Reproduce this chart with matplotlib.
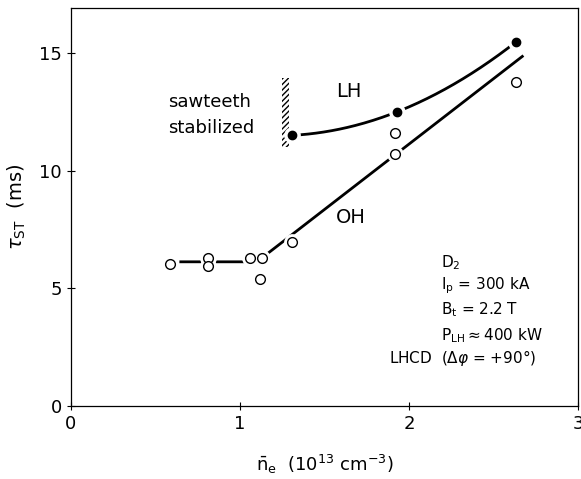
import numpy as np
import matplotlib
matplotlib.use("Agg")
import matplotlib.pyplot as plt
from matplotlib.patches import Rectangle

# OH data (open circles)
oh_x = [0.585, 0.81, 0.81, 1.06, 1.13, 1.12, 1.31, 1.92, 1.92, 2.63]
oh_y = [6.05, 6.3, 5.95, 6.3, 6.3, 5.4, 6.95, 11.6, 10.7, 13.75]
# OH guide line (knots)
oh_line_x = [0.65, 1.1, 2.67]
oh_line_y = [6.13, 6.13, 14.85]
# LH data (filled circles)
lh_x = [1.31, 1.93, 2.63]
lh_y = [11.5, 12.5, 15.45]

xticks = [0, 1, 2, 3]
yticks = [0, 5, 10, 15]

plt.rcParams['mathtext.fontset'] = 'dejavusans'
fig = plt.figure(figsize=(5.81, 4.79), dpi=100)
ax = fig.add_axes([0.122, 0.152, 0.873, 0.831])
ax.set_xlim(0, 3)
ax.set_ylim(0, 16.9)
ax.set_xticks(xticks)
ax.set_yticks(yticks)
ax.tick_params(direction='inout', length=6, width=0.8, labelsize=13)
for s in ax.spines.values():
    s.set_linewidth(0.9)

# OH line: flat part then rising
ax.plot(oh_line_x, oh_line_y, color='black', lw=2.0, zorder=2)
# LH curve: smooth through points
c = np.polyfit(lh_x, lh_y, 2)
xx = np.linspace(lh_x[0], lh_x[-1], 200)
ax.plot(xx, np.polyval(c, xx), color='black', lw=2.0, zorder=2)

# markers with white halo to create gaps
ax.plot(oh_x, oh_y, 'o', ms=11, mfc='white', mec='white', zorder=3)
ax.plot(oh_x, oh_y, 'o', ms=7, mfc='white', mec='black', mew=1.0, zorder=4)
ax.plot(lh_x, lh_y, 'o', ms=11, mfc='white', mec='white', zorder=3)
ax.plot(lh_x, lh_y, 'o', ms=6, mfc='black', mec='black', zorder=4)

# hatched bar
ax.add_patch(Rectangle((1.248, 11.0), 0.04, 2.95, facecolor='none',
                       edgecolor='black', hatch='//////', lw=0, zorder=1))

ax.text(0.575, 12.9, 'sawteeth', fontsize=13, va='center', ha='left')
ax.text(0.575, 11.8, 'stabilized', fontsize=13, va='center', ha='left')
ax.text(1.57, 13.35, 'LH', fontsize=14, va='center', ha='left')
ax.text(1.57, 8.0, 'OH', fontsize=14, va='center', ha='left')

fs = 11
ax.text(2.19, 6.1, r'D$_2$', fontsize=fs, va='center', ha='left')
ax.text(2.19, 5.1, r'I$_{\rm p}$ = 300 kA', fontsize=fs, va='center', ha='left')
ax.text(2.19, 4.08, r'B$_{\rm t}$ = 2.2 T', fontsize=fs, va='center', ha='left')
ax.text(2.19, 3.0, r'P$_{\rm LH}$$\approx$400 kW', fontsize=fs, va='center', ha='left')
ax.text(1.88, 2.04, r'LHCD  ($\Delta\varphi$ = +90°)', fontsize=fs, va='center', ha='left')

ax.set_ylabel(r'$\tau_{\rm ST}$  (ms)', fontsize=14, labelpad=8)
ax.set_xlabel(r'$\bar{\rm n}_{\rm e}$  (10$^{13}$ cm$^{-3}$)', fontsize=13, labelpad=14)

fig.savefig('out.png', dpi=100)
